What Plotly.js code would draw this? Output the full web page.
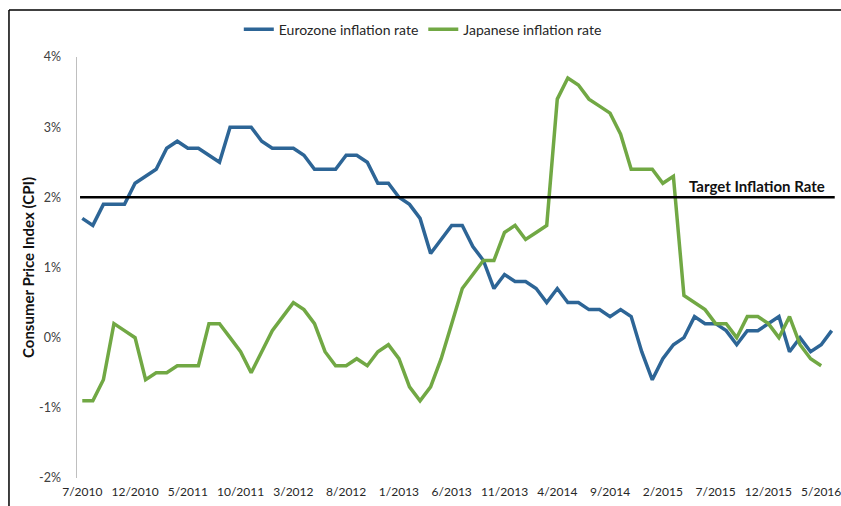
<!DOCTYPE html>
<html>
<head>
<meta charset="utf-8">
<script src="https://cdn.plot.ly/plotly-3.0.1.min.js"></script>
<style>html,body{margin:0;padding:0;background:#fff;}#chart{width:841px;height:506px;}</style>
</head>
<body>
<div id="chart"></div>
<script>
const months = [
  "7/2010","8/2010","9/2010","10/2010","11/2010","12/2010",
  "1/2011","2/2011","3/2011","4/2011","5/2011","6/2011","7/2011","8/2011","9/2011","10/2011","11/2011","12/2011",
  "1/2012","2/2012","3/2012","4/2012","5/2012","6/2012","7/2012","8/2012","9/2012","10/2012","11/2012","12/2012",
  "1/2013","2/2013","3/2013","4/2013","5/2013","6/2013","7/2013","8/2013","9/2013","10/2013","11/2013","12/2013",
  "1/2014","2/2014","3/2014","4/2014","5/2014","6/2014","7/2014","8/2014","9/2014","10/2014","11/2014","12/2014",
  "1/2015","2/2015","3/2015","4/2015","5/2015","6/2015","7/2015","8/2015","9/2015","10/2015","11/2015","12/2015",
  "1/2016","2/2016","3/2016","4/2016","5/2016","6/2016"
];
const tickLabels = ["7/2010","12/2010","5/2011","10/2011","3/2012","8/2012","1/2013","6/2013","11/2013","4/2014","9/2014","2/2015","7/2015","12/2015","5/2016"];

const eurozone = [
  1.7,1.6,1.9,1.9,1.9,2.2,
  2.3,2.4,2.7,2.8,2.7,2.7,2.6,2.5,3.0,3.0,3.0,2.8,
  2.7,2.7,2.7,2.6,2.4,2.4,2.4,2.6,2.6,2.5,2.2,2.2,
  2.0,1.9,1.7,1.2,1.4,1.6,1.6,1.3,1.1,0.7,0.9,0.8,
  0.8,0.7,0.5,0.7,0.5,0.5,0.4,0.4,0.3,0.4,0.3,-0.2,
  -0.6,-0.3,-0.1,0.0,0.3,0.2,0.2,0.1,-0.1,0.1,0.1,0.2,
  0.3,-0.2,0.0,-0.2,-0.1,0.1
];
const japan = [
  -0.9,-0.9,-0.6,0.2,0.1,0.0,
  -0.6,-0.5,-0.5,-0.4,-0.4,-0.4,0.2,0.2,0.0,-0.2,-0.5,-0.2,
  0.1,0.3,0.5,0.4,0.2,-0.2,-0.4,-0.4,-0.3,-0.4,-0.2,-0.1,
  -0.3,-0.7,-0.9,-0.7,-0.3,0.2,0.7,0.9,1.1,1.1,1.5,1.6,
  1.4,1.5,1.6,3.4,3.7,3.6,3.4,3.3,3.2,2.9,2.4,2.4,
  2.4,2.2,2.3,0.6,0.5,0.4,0.2,0.2,0.0,0.3,0.3,0.2,
  0.0,0.3,-0.1,-0.3,-0.4
];
const targetRate = 2;
const yTickVals = [-2,-1,0,1,2,3,4];
const yTickText = ["-2%","-1%","0%","1%","2%","3%","4%"];

const FONT = "Lato, 'Open Sans', sans-serif";

const traces = [
  {x: months.slice(0, eurozone.length), y: eurozone, name: "Eurozone inflation rate", type: "scatter", mode: "lines",
   line: {color: "#2D6596", width: 3.5}},
  {x: months.slice(0, japan.length), y: japan, name: "Japanese inflation rate", type: "scatter", mode: "lines",
   line: {color: "#71A844", width: 3.5}}
];

const layout = {
  width: 841, height: 506,
  margin: {l: 77, r: 4, t: 57, b: 28},
  paper_bgcolor: "#fff", plot_bgcolor: "#fff",
  font: {family: FONT, size: 12, color: "#404040"},
  showlegend: true,
  legend: {orientation: "h", x: 0.455, xanchor: "center", y: 1.065, yanchor: "middle",
           font: {family: FONT, size: 14, color: "#262626"}, itemwidth: 30, tracegroupgap: 0},
  xaxis: {type: "category", categoryorder: "array", categoryarray: months,
          range: [-0.5, 71.5], showline: false, showgrid: false, zeroline: false,
          tickvals: tickLabels, ticktext: tickLabels, ticks: "", ticklabelstandoff: 5,
          tickfont: {family: FONT, size: 12, color: "#262626"}},
  yaxis: {range: [-2, 4], tickvals: yTickVals, ticktext: yTickText, showgrid: false, zeroline: false,
          showline: true, linecolor: "#BFBFBF", linewidth: 1.5, ticks: "", ticklabelstandoff: 12,
          tickfont: {family: FONT, size: 12.5, color: "#404040"},
          title: {text: "<b>Consumer Price Index (CPI)</b>", font: {family: FONT, size: 15, color: "#111"}, standoff: 1}},
  shapes: [
    {type: "line", xref: "paper", yref: "y", x0: 0.004, x1: 0.997, y0: targetRate, y1: targetRate,
     line: {color: "#000", width: 2.5}},
    {type: "line", xref: "paper", yref: "paper", x0: -0.0895, x1: 1.01, y0: 1.1116, y1: 1.1116,
     line: {color: "#000", width: 1.5}},
    {type: "line", xref: "paper", yref: "paper", x0: -0.0895, x1: -0.0895, y0: 1.1116, y1: -0.08,
     line: {color: "#000", width: 1.5}}
  ],
  annotations: [
    {text: "<b>Target Inflation Rate</b>", xref: "paper", yref: "paper", x: 0.895, y: 0.693,
     xanchor: "center", yanchor: "middle", showarrow: false, font: {family: FONT, size: 15, color: "#111"}}
  ]
};

Plotly.newPlot("chart", traces, layout, {displayModeBar: false, staticPlot: true});
</script>
</body>
</html>
